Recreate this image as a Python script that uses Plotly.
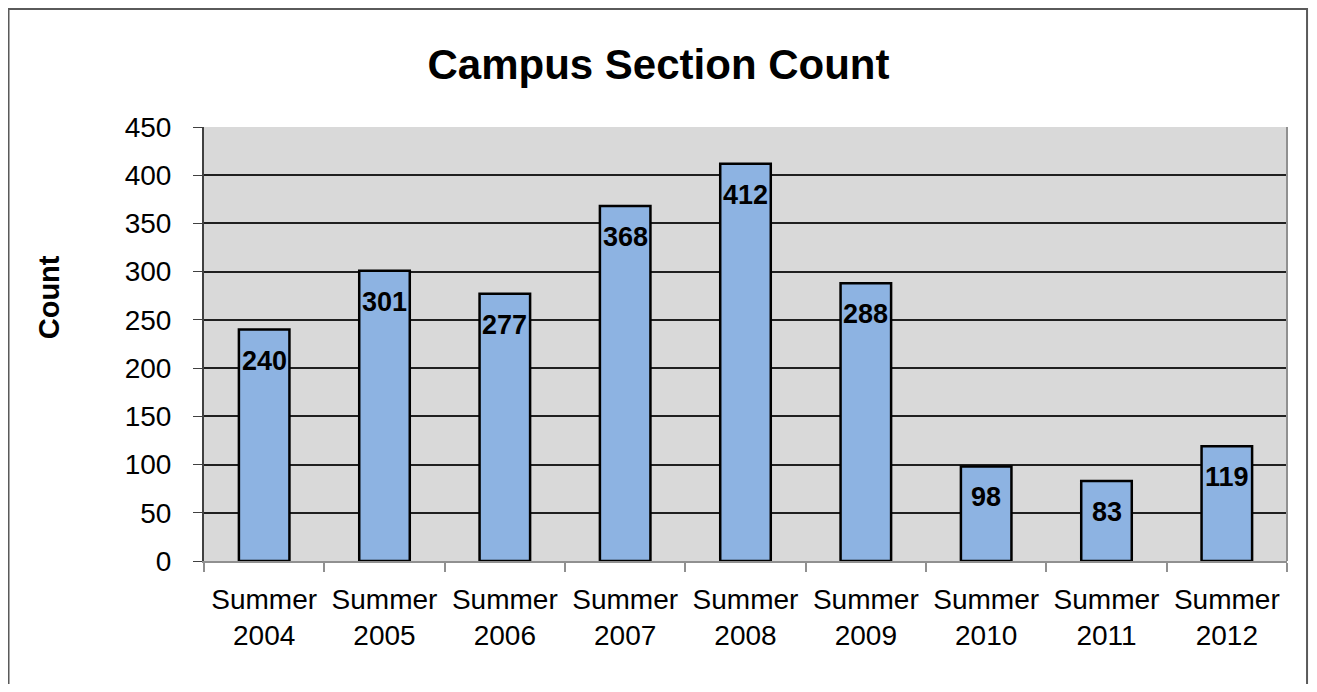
import plotly.graph_objects as go

categories = ['Summer<br>2004', 'Summer<br>2005', 'Summer<br>2006', 'Summer<br>2007', 'Summer<br>2008',
              'Summer<br>2009', 'Summer<br>2010', 'Summer<br>2011', 'Summer<br>2012']
counts = [240, 301, 277, 368, 412, 288, 98, 83, 119]
y_ticks = [0, 50, 100, 150, 200, 250, 300, 350, 400, 450]

FONT = 'Liberation Sans, Arial, sans-serif'

fig = go.Figure()
fig.add_trace(go.Bar(x=categories, y=counts,
                     marker=dict(color='#8DB3E2', line=dict(color='black', width=2.5)),
                     width=0.42, hoverinfo='x+y'))

# data labels just inside the top of each bar
for cat, val in zip(categories, counts):
    fig.add_annotation(x=cat, y=val, text=f'<b>{val}</b>', showarrow=False,
                       yanchor='top', yshift=-14, font=dict(family=FONT, size=27, color='black'))

# y axis title sits above the middle in the original, so place it by hand
fig.add_annotation(xref='paper', yref='paper', x=-0.143, y=0.608, text='<b>Count</b>',
                   textangle=-90, showarrow=False, xanchor='center', yanchor='middle',
                   font=dict(family=FONT, size=29, color='black'))

# page body has an 8px margin, so the figure is a bit smaller than the window
fig.update_layout(
    width=1301, height=676,
    title=dict(text='<b>Campus Section Count</b>', x=0.5, xanchor='center', y=0.917, yanchor='middle',
               font=dict(family=FONT, size=42, color='black')),
    plot_bgcolor='#D9D9D9', paper_bgcolor='white',
    margin=dict(l=196, r=22, t=119, b=123),
    font=dict(family=FONT, size=28, color='black'),
    showlegend=False,
    bargap=0.58,
)

fig.update_yaxes(range=[0, 450], tickvals=y_ticks, showgrid=True, gridcolor='#202020', gridwidth=1.5,
                 ticks='outside', ticklen=9, tickcolor='#404040', showline=True, linecolor='#404040',
                 linewidth=2, zeroline=False, tickfont=dict(size=28), ticklabelstandoff=16)
fig.update_xaxes(ticks='outside', tickson='boundaries', ticklen=9, tickcolor='#909090', tickwidth=1.5,
                 showline=True, linecolor='#909090', linewidth=2, tickfont=dict(size=28),
                 ticklabelstandoff=12)

# plot area right edge
fig.add_shape(type='line', xref='paper', yref='paper', x0=1, x1=1, y0=0, y1=1,
              line=dict(color='#909090', width=2))
# outer chart border
fig.add_shape(type='rect', xref='paper', yref='paper', x0=-0.1805, x1=1.0185, y0=-0.4, y1=1.272,
              line=dict(color='#5A5A5A', width=2), layer='below')

fig.write_html('out.html')
